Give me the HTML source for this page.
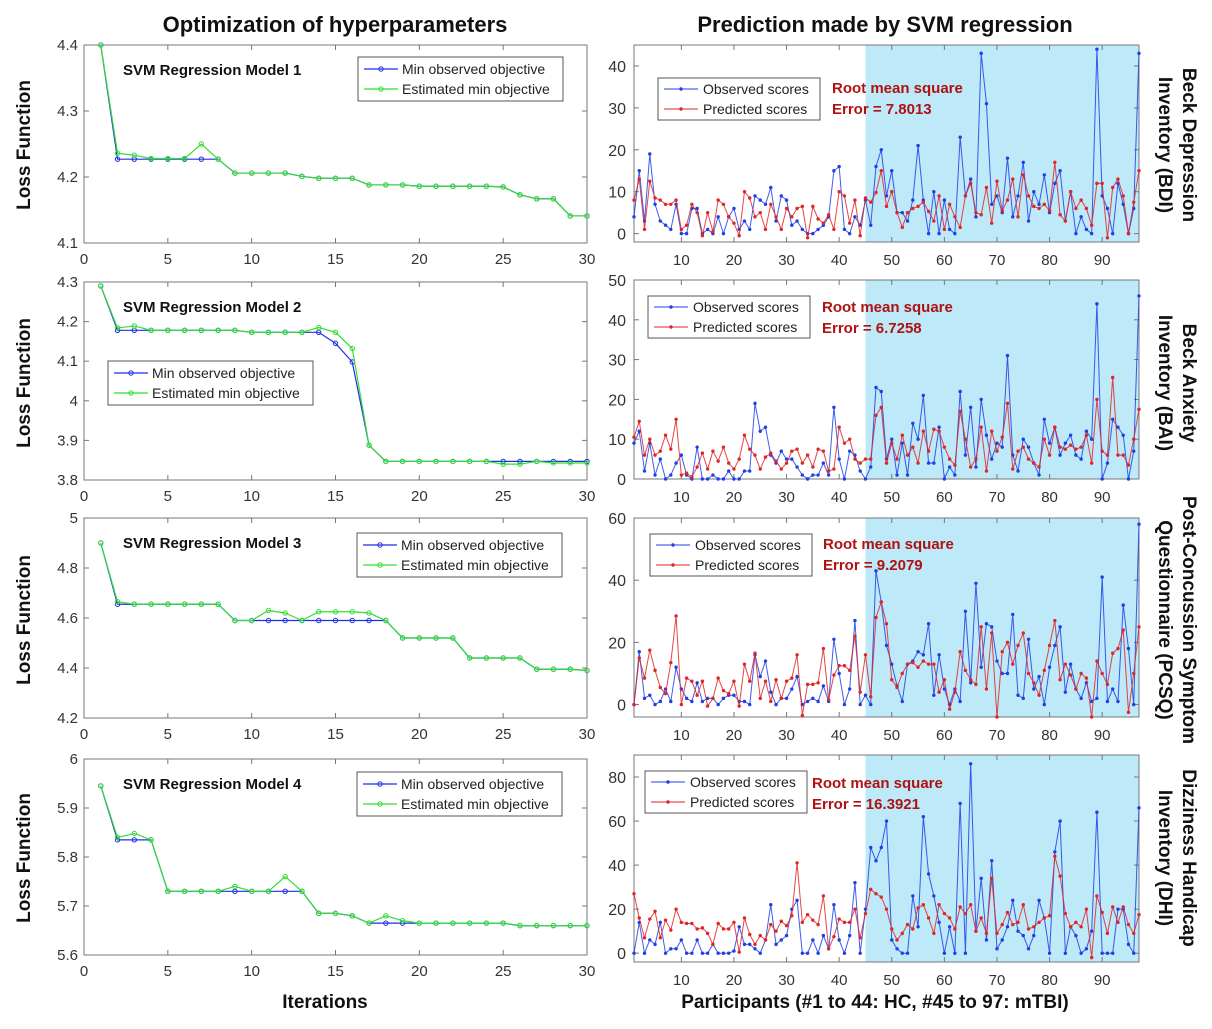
<!DOCTYPE html>
<html><head><meta charset="utf-8"><style>
html,body{margin:0;padding:0;background:#fff;}
svg{display:block;font-family:"Liberation Sans",sans-serif;}
</style></head><body>
<svg id="fig" width="1212" height="1029" viewBox="0 0 1212 1029" xmlns="http://www.w3.org/2000/svg"></svg>
<script>
// ---- data: optimization (left) ----
const iters = [1,2,3,4,5,6,7,8,9,10,11,12,13,14,15,16,17,18,19,20,21,22,23,24,25,26,27,28,29,30];
const m1Obs = [4.4,4.227,4.227,4.227,4.227,4.227,4.227,4.227,4.206,4.206,4.206,4.206,4.201,4.198,4.198,4.198,4.188,4.188,4.188,4.186,4.186,4.186,4.186,4.186,4.185,4.173,4.167,4.167,4.141,4.141];
const m1Est = [4.4,4.236,4.233,4.228,4.228,4.228,4.25,4.227,4.206,4.206,4.206,4.206,4.201,4.198,4.198,4.198,4.188,4.188,4.188,4.186,4.186,4.186,4.186,4.186,4.185,4.173,4.167,4.167,4.141,4.141];
const m2Obs = [4.29,4.178,4.178,4.178,4.178,4.178,4.178,4.178,4.178,4.173,4.173,4.173,4.173,4.173,4.145,4.098,3.888,3.847,3.847,3.847,3.847,3.847,3.847,3.847,3.847,3.847,3.847,3.847,3.847,3.847];
const m2Est = [4.29,4.184,4.189,4.178,4.178,4.178,4.178,4.178,4.178,4.173,4.173,4.173,4.173,4.185,4.173,4.132,3.888,3.847,3.847,3.847,3.847,3.847,3.847,3.847,3.84,3.84,3.847,3.843,3.843,3.843];
const m3Obs = [4.9,4.655,4.655,4.655,4.655,4.655,4.655,4.655,4.59,4.59,4.59,4.59,4.59,4.59,4.59,4.59,4.59,4.59,4.52,4.52,4.52,4.52,4.44,4.44,4.44,4.44,4.395,4.395,4.395,4.39];
const m3Est = [4.9,4.665,4.655,4.655,4.655,4.655,4.655,4.655,4.59,4.59,4.63,4.62,4.59,4.625,4.625,4.625,4.62,4.59,4.52,4.52,4.52,4.52,4.44,4.44,4.44,4.44,4.395,4.395,4.395,4.39];
const m4Obs = [5.945,5.835,5.835,5.835,5.73,5.73,5.73,5.73,5.73,5.73,5.73,5.73,5.73,5.685,5.685,5.68,5.665,5.665,5.665,5.665,5.665,5.665,5.665,5.665,5.665,5.66,5.66,5.66,5.66,5.66];
const m4Est = [5.945,5.84,5.848,5.835,5.73,5.73,5.73,5.73,5.74,5.73,5.73,5.76,5.73,5.685,5.685,5.68,5.665,5.68,5.67,5.665,5.665,5.665,5.665,5.665,5.665,5.66,5.66,5.66,5.66,5.66];
const leftXTicks = [0,5,10,15,20,25,30];
const m1YTicks = ["4.1","4.2","4.3","4.4"];
const m2YTicks = ["3.8","3.9","4","4.1","4.2","4.3"];
const m3YTicks = ["4.2","4.4","4.6","4.8","5"];
const m4YTicks = ["5.6","5.7","5.8","5.9","6"];
// ---- data: predictions (right) ----
const bdiObs = [4,15,3,19,7,3,2,1,7,0,0,6,6,0,1,0,4,0,4,6,1,3,1,9,8,7,11,3,9,8,2,3,1,0,0,1,2,4,15,16,1,0,4,2,8,2,16,20,9,15,5,5,3,8,21,8,0,10,0,8,1,0,23,9,13,4,43,31,7,9,5,18,4,9,17,3,10,7,14,5,12,15,3,10,0,4,1,0,44,9,6,0,12,7,0,6,43];
const bdiPred = [8,13,1,12.5,8.5,8,7,7,8,1,2,7,5,-0.5,5,0.5,8,7,4,2.5,-0.5,10,8.5,4,5,1,7,4,1,6,4,6,6.5,-1,6.5,3.5,2.5,4.5,1,10,9,2.5,8,-0.5,8.5,7.5,9.8,15,6.5,10,5,1.5,5,6,6.5,7.5,5.3,3,9,1,7,4,1.5,9,12,5,4.5,11,2.5,12.5,5.5,8,13,4,14,9,6.5,6,7,5.5,17,4.5,3,10,6,8,6,2,12,12,-1,11,13,9,0,7.5,15];
const baiObs = [9,12,2,9,1,5,0,1,4,6,1,0,8,0,0,1,0,0,2,0,0,2,2,19,12,13,6,4,7,5,5,3,1,0,1,1,4,1,18,5,0,7,6,2,0,3,23,22,5,10,1,9,1,14,10,21,4,4,13,0,3,1,22,6,18,3,20,11,5,9,8,31,6,2,10,8,4,1,15,9,13,6,9,11,6,5,12,10,44,0,4,15,13,11,0,7,46];
const baiPred = [10.5,14.5,6,10,6,7,11,7.5,15,1,1.5,0.5,3,6.5,2.5,7,4.5,8,4,2.5,5,11,7.5,6,2.5,5.5,6.5,4.5,2.5,4,7,7.5,4,6,3,7.5,7,2,2.5,13,9,10,5,4,5,5,16,18,4,9,5,11,6,8,4,12,7,12.5,12,8,5,3.5,17,10,3,5,13,2,12,7,10.5,19,2.5,7,8,5,4,3,10,6,13,8,7.5,8.5,7.5,8,11,4,20,7,6,25.5,6,6,3.5,10,17.5];
const pcsqObs = [0,17,2,3,0,1,5,1,12,5,2,1,7,1,2,2,0,2,3,3,1,1,0,16,9,14,4,0,2,2,5,9,0,1,2,1,6,1,21,10,0,5,27,0,3,0,43,33,19,13,6,1,13,14,17,16,26,3,16,5,0,5,1,30,7,39,12,26,25,14,10,10,29,3,2,21,5,9,0,12,19,25,4,13,5,2,7,1,2,41,1,5,1,32,18,0,58];
const pcsqPred = [0,15,8.5,17.5,11,5.5,3.5,13.5,28.5,0,8.5,7.5,3,7.5,-0.5,2,8.5,4.5,3.5,7.5,-0.5,13,7.5,16.5,2,7.5,1,8,2,7.5,8.5,16,-3.5,6.5,6.5,7,18,1.5,9.5,12.5,12.5,11,22,4,16,2.5,28,33,26,8,5.5,10,13,13.5,12,14,13,13,4,8,-1.5,4,17,11,8,6.5,25,5,23,-4,17,20,13,19,23,10,7,3,11,19,27,8,13,9.5,5,10,8.5,-4,14,10,6.5,16.5,18,24,-2.5,10,25];
const dhiObs = [0,14,0,6,4,14,0,2,2,6,0,0,6,0,0,4,0,0,0,1,12,4,4,2,0,6,22,4,6,8,20,24,0,0,6,0,8,2,22,6,0,8,32,0,20,48,42,48,60,6,2,0,0,26,12,62,36,26,14,0,12,0,68,0,86,10,34,6,42,2,6,12,24,10,8,2,8,24,16,0,46,60,0,12,8,0,2,10,64,0,0,0,20,20,4,0,66];
const dhiPred = [27,16,7,15.5,19,7,15,10.5,20,14,13.5,13.5,11,11.5,9,4,13.5,11,11,14,0.5,16,8.5,4,8,6,13,10,14.5,12.5,17,41,14,17.5,15,13,26,2,7.5,15.5,14,14,20,7,18,29,27,25.5,20,11,6,9,13,11,20.5,22,16,9,22,18,16,11,21,18,22,10,16,9,34,9,13,18.5,13,14,22,11,12,14,16,17,44,35,18,12,14,12,20,-2,26,18.5,9,21,14,21,13,9,17.5];
const rightXTicks = [10,20,30,40,50,60,70,80,90];
const bdiYTicks = [0,10,20,30,40];
const baiYTicks = [0,10,20,30,40,50];
const pcsqYTicks = [0,20,40,60];
const dhiYTicks = [0,20,40,60,80];
const rmseValues = ["7.8013","6.7258","9.2079","16.3921"];

const NS="http://www.w3.org/2000/svg";
const svg=document.getElementById('fig');
function mk(tag,attrs,parent,text){const e=document.createElementNS(NS,tag);for(const k in attrs)e.setAttribute(k,attrs[k]);if(text!==undefined)e.textContent=text;(parent||svg).appendChild(e);return e;}
function scale(d0,d1,r0,r1){return v=>r0+(v-d0)*(r1-r0)/(d1-d0);}

function leftPanel(idx,top,bot,ymin,ymax,yTicks,obs,est,legX,legY){
  const g=mk('g',{});
  
  
  const L=84,R=587;
  const sx=scale(0,30,L,R), sy=scale(ymin,ymax,bot,top);
  mk('rect',{x:L,y:top,width:R-L,height:bot-top,fill:'#fff',stroke:'#777','stroke-width':1},g);
  leftXTicks.forEach(t=>{const x=sx(t);
    mk('line',{x1:x,y1:bot,x2:x,y2:bot-5,stroke:'#777'},g);mk('line',{x1:x,y1:top,x2:x,y2:top+5,stroke:'#777'},g);
    const tl=mk('text',{x:x,y:bot+21,'font-size':15,'text-anchor':'middle',fill:'#333'},g,String(t));
    });
  yTicks.forEach(t=>{const y=sy(parseFloat(t));
    mk('line',{x1:L,y1:y,x2:L+5,y2:y,stroke:'#777'},g);mk('line',{x1:R,y1:y,x2:R-5,y2:y,stroke:'#777'},g);
    const tl=mk('text',{x:L-6,y:y+5,'font-size':15,'text-anchor':'end',fill:'#333'},g,t);
    });
  [[obs,'#1f2fe8','min-observed-line'],[est,'#33dd33','estimated-min-line']].forEach(([arr,c,nm])=>{
    const pts=arr.map((v,i)=>sx(iters[i])+','+sy(v)).join(' ');
    const pl=mk('polyline',{points:pts,fill:'none',stroke:c,'stroke-width':1.2},g);
    
    arr.forEach((v,i)=>{const c2=mk('circle',{cx:sx(iters[i]),cy:sy(v),r:2.2,fill:'none',stroke:c,'stroke-width':1},g);
      });
  });
  const t=mk('text',{x:123,y:top+30,'font-size':15,'font-weight':'bold',fill:'#111'},g,'SVM Regression Model '+idx);
  
  const lg=mk('g',{},g);
  mk('rect',{x:legX,y:legY,width:205,height:44,fill:'#fff',stroke:'#555'},lg);
  [['Min observed objective','#1f2fe8'],['Estimated min objective','#33dd33']].forEach(([lab,c],k)=>{
    const yy=legY+12+k*20;
    mk('line',{x1:legX+6,y1:yy,x2:legX+40,y2:yy,stroke:c,'stroke-width':1.2},lg);
    mk('circle',{cx:legX+23,cy:yy,r:2.2,fill:'none',stroke:c},lg);
    const e=mk('text',{x:legX+44,y:yy+5,'font-size':14,fill:'#222'},lg,lab);
    });
}

function rightPanel(idx,top,bot,ymin,ymax,yTicks,obs,pred,legX,legY,rmX,rmY,sideLines,sideY){
  const g=mk('g',{});
  
  
  const L=634,R=1139;
  const sx=scale(1,97,L,R), sy=scale(ymin,ymax,bot,top);
  mk('rect',{x:L,y:top,width:R-L,height:bot-top,fill:'#fff',stroke:'#777'},g);
  const sh=mk('rect',{x:sx(45),y:top,width:R-sx(45),height:bot-top,fill:'#bde9f8'},g);
  
  mk('rect',{x:L,y:top,width:R-L,height:bot-top,fill:'none',stroke:'#777'},g);
  rightXTicks.forEach(t=>{const x=sx(t);
    mk('line',{x1:x,y1:bot,x2:x,y2:bot-5,stroke:'#777'},g);mk('line',{x1:x,y1:top,x2:x,y2:top+5,stroke:'#777'},g);
    const tl=mk('text',{x:x,y:bot+23,'font-size':15,'text-anchor':'middle',fill:'#333'},g,String(t));
    });
  yTicks.forEach(t=>{const y=sy(t);
    mk('line',{x1:L,y1:y,x2:L+5,y2:y,stroke:'#777'},g);mk('line',{x1:R,y1:y,x2:R-5,y2:y,stroke:'#777'},g);
    const tl=mk('text',{x:L-8,y:y+6,'font-size':16,'text-anchor':'end',fill:'#333'},g,String(t));
    });
  [[obs,'#1f3fe6','observed-line'],[pred,'#e02525','predicted-line']].forEach(([arr,c,nm])=>{
    const pts=arr.map((v,i)=>sx(i+1)+','+sy(v)).join(' ');
    const pl=mk('polyline',{points:pts,fill:'none',stroke:c,'stroke-width':1,'stroke-opacity':0.85},g);
    
    arr.forEach((v,i)=>{const d=mk('circle',{cx:sx(i+1),cy:sy(v),r:1.7,fill:c},g);
      });
  });
  const lg=mk('g',{},g);
  mk('rect',{x:legX,y:legY,width:162,height:42,fill:'#fff',stroke:'#555'},lg);
  [['Observed scores','#1f3fe6'],['Predicted scores','#e02525']].forEach(([lab,c],k)=>{
    const yy=legY+11+k*20;
    mk('line',{x1:legX+6,y1:yy,x2:legX+40,y2:yy,stroke:c},lg);
    mk('circle',{cx:legX+23,cy:yy,r:1.7,fill:c},lg);
    const e=mk('text',{x:legX+45,y:yy+5,'font-size':14,fill:'#222'},lg,lab);
    });
  const r1=mk('text',{x:rmX,y:rmY,'font-size':15,'font-weight':'bold',fill:'#b01212'},g,'Root mean square');
  
  const r2=mk('text',{x:rmX,y:rmY+21,'font-size':15,'font-weight':'bold',fill:'#b01212'},g,'Error = '+rmseValues[idx-1]);
  
  sideLines.forEach((s,k)=>{
    const x=1183-k*24;
    const t=mk('text',{x:x,y:sideY,'font-size':19,'font-weight':'bold',fill:'#111','text-anchor':'middle',transform:'rotate(90 '+x+' '+sideY+')'},g,s);
    
  });
}

leftPanel(1,45,243,4.1,4.4,m1YTicks,m1Obs,m1Est,358,57);
leftPanel(2,282,480,3.8,4.3,m2YTicks,m2Obs,m2Est,108,361);
leftPanel(3,518,718,4.2,5,m3YTicks,m3Obs,m3Est,357,533);
leftPanel(4,759,955,5.6,6,m4YTicks,m4Obs,m4Est,357,772);

rightPanel(1,45,242,-2,45,bdiYTicks,bdiObs,bdiPred,658,78,832,93,['Beck Depression','Inventory (BDI)'],145);
rightPanel(2,280,479,0,50,baiYTicks,baiObs,baiPred,648,296,822,312,['Beck Anxiety','Inventory (BAI)'],383);
rightPanel(3,518,717,-4,60,pcsqYTicks,pcsqObs,pcsqPred,650,534,823,549,['Post-Concussion Symptom','Questionnaire (PCSQ)'],620);
rightPanel(4,755,962,-4,90,dhiYTicks,dhiObs,dhiPred,645,771,812,788,['Dizziness Handicap','Inventory (DHI)'],858);

function label(txt,attrs,name){const t=mk('text',attrs,svg,txt);}
label('Optimization of hyperparameters',{x:335,y:32,'font-size':22,'font-weight':'bold','text-anchor':'middle',fill:'#111'},'left-column-title');
label('Prediction made by SVM regression',{x:885,y:32,'font-size':22,'font-weight':'bold','text-anchor':'middle',fill:'#111'},'right-column-title');
label('Iterations',{x:325,y:1008,'font-size':19,'font-weight':'bold','text-anchor':'middle',fill:'#111'},'x-axis-title-iterations');
label('Participants (#1 to 44: HC, #45 to 97: mTBI)',{x:875,y:1008,'font-size':19,'font-weight':'bold','text-anchor':'middle',fill:'#111'},'x-axis-title-participants');
[145,383,620,858].forEach((cy,i)=>{
  const t=mk('text',{x:30,y:cy,'font-size':19,'font-weight':'bold','text-anchor':'middle',fill:'#111',transform:'rotate(-90 30 '+cy+')'},svg,'Loss Function');
  
});
</script>
</body></html>
